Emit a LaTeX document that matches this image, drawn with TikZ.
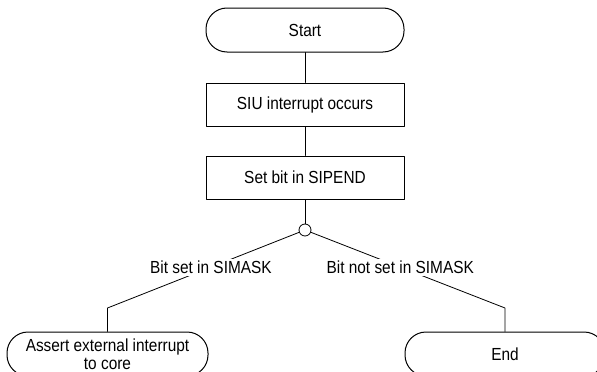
\documentclass[tikz,border=0pt]{standalone}
\usepackage{fontspec}
\setmainfont{Liberation Sans}[FakeStretch=0.88]

\begin{document}
\begin{tikzpicture}[x=1pt, y=-1pt, font=\fontsize{17.5}{18}\selectfont, line join=round, line cap=round,
		term/.style={draw, line width=1pt, rounded corners=21pt, minimum width=198pt, minimum height=44pt, align=center},
		stepbox/.style={draw, line width=1pt, minimum width=198pt, minimum height=43pt},
		cond/.style={fill=white, inner sep=2pt, pos=0.46},
		link/.style={line width=0.8pt}]
				\useasboundingbox (0,0) rectangle (597,372);
				\clip (0,0) rectangle (597,372);
				\path
				(305,30) node[term] (start) {Start}
				(305,104.5) node[stepbox] (occur) {SIU interrupt occurs}
				(305,177.5) node[stepbox] (setbit) {Set bit in SIPEND}
				(305,230) node[draw, circle, line width=0.8pt, fill=white, minimum size=12pt, inner sep=0pt] (split) {}
				(107.5,354) node[term, minimum width=201pt, minimum height=44pt] (assert) {Assert external interrupt\\to core}
				(505,354) node[term, minimum width=200pt] (finish) {End}
				(107.5,308) coordinate (lturn)
				(505,308) coordinate (rturn)
				;
				\draw[link] (start)--(occur) (occur)--(setbit) (setbit)--(split);
				\draw[link] (split)--node[cond]{Bit set in SIMASK}(lturn)--(assert);
				\draw[link] (split)--node[cond]{Bit not set in SIMASK}(rturn)--(finish);
			\end{tikzpicture}
\end{document}
